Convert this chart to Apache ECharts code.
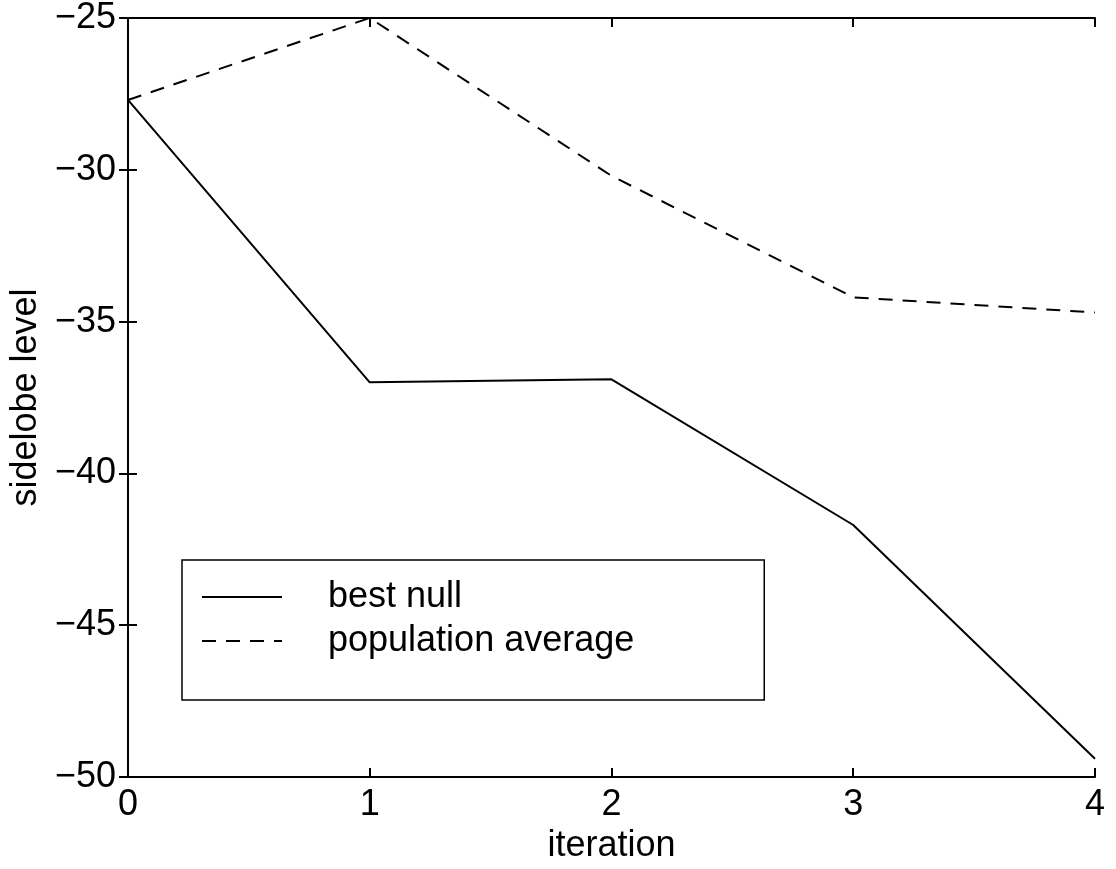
<!DOCTYPE html>
<html>
<head>
<meta charset="utf-8">
<script src="https://cdn.jsdelivr.net/npm/echarts@6/dist/echarts.min.js"></script>
<style>
  html, body { margin: 0; padding: 0; background: #fff; }
  #chart { width: 1116px; height: 869px; }
</style>
</head>
<body>
<div id="chart"></div>
<script>
// данные с картинки
const iterations = [0, 1, 2, 3, 4];
const bestNull = [-27.7, -37.0, -36.9, -41.7, -49.4];
const populationAverage = [-27.7, -25.0, -30.2, -34.2, -34.7];

const font = '"Liberation Sans", Arial, Helvetica, sans-serif';
const minus = v => String(v).replace('-', '\u2212');

const chart = echarts.init(document.getElementById('chart'));

const tickStyle = { show: true, inside: true, length: 9, lineStyle: { color: '#000', width: 2 } };
const lineStyle = { lineStyle: { color: '#000', width: 2 } };

const option = {
    backgroundColor: '#fff',
    animation: false,
    textStyle: { fontFamily: font, color: '#000' },
    grid: { left: 124, right: 21, top: 16, bottom: 92, show: false },
    legend: {
        show: true,
        left: 182,
        top: 560,
        orient: 'vertical',
        backgroundColor: '#fff',
        borderColor: '#000',
        borderWidth: 1.5,
        borderRadius: 0,
        padding: [19, 130, 41, 19],
        itemWidth: 80,
        itemHeight: 14,
        itemGap: 8,
        itemStyle: { opacity: 0 },
        textStyle: { fontSize: 36, fontFamily: font, color: '#000', padding: [0, 0, 0, 41] },
        data: ['best null', 'population average']
    },
    xAxis: [
        {
            type: 'value',
            min: 0, max: 4, interval: 1,
            name: 'iteration',
            nameLocation: 'middle',
            nameGap: 46,
            nameTextStyle: { fontSize: 36, fontFamily: font, color: '#000' },
            axisLine: lineStyle,
            axisTick: tickStyle,
            axisLabel: { fontSize: 36, color: '#000', margin: 10, fontFamily: font },
            splitLine: { show: false }
        },
        {
            type: 'value',
            position: 'top',
            min: 0, max: 4, interval: 1,
            axisLine: lineStyle,
            axisTick: tickStyle,
            axisLabel: { show: false },
            splitLine: { show: false }
        }
    ],
    yAxis: [
        {
            type: 'value',
            min: -50, max: -25, interval: 5,
            name: 'sidelobe level',
            nameLocation: 'middle',
            nameGap: 77,
            nameTextStyle: { fontSize: 36, fontFamily: font, color: '#000' },
            axisLine: lineStyle,
            axisTick: tickStyle,
            axisLabel: { fontSize: 36, color: '#000', margin: 12, fontFamily: font, formatter: minus },
            splitLine: { show: false }
        },
        {
            type: 'value',
            position: 'right',
            min: -50, max: -25, interval: 5,
            axisLine: lineStyle,
            axisTick: tickStyle,
            axisLabel: { show: false },
            splitLine: { show: false }
        }
    ],
    series: [
        {
            name: 'best null',
            type: 'line',
            data: iterations.map((x, i) => [x, bestNull[i]]),
            symbol: 'none',
            color: '#000',
            lineStyle: { color: '#000', width: 2, type: 'solid' }
        },
        {
            name: 'population average',
            type: 'line',
            data: iterations.map((x, i) => [x, populationAverage[i]]),
            symbol: 'none',
            color: '#000',
            lineStyle: { color: '#000', width: 2, type: [14, 10] }
        }
    ]
};

chart.setOption(option);
</script>
</body>
</html>
